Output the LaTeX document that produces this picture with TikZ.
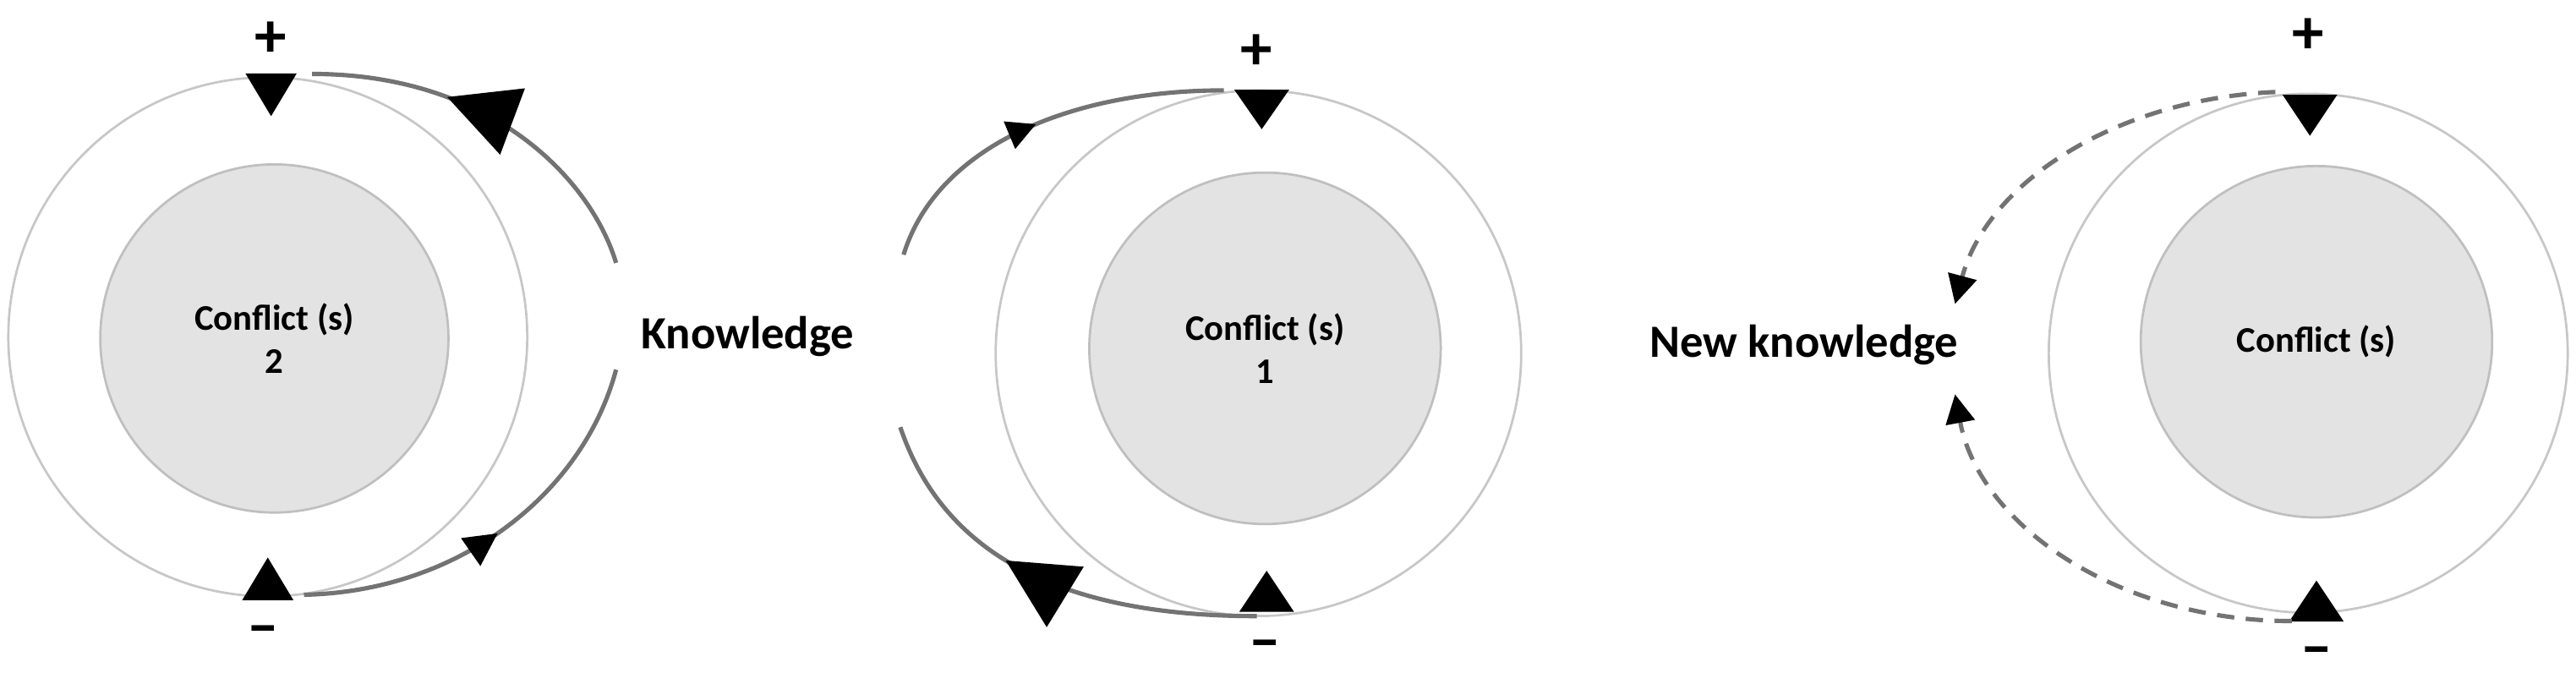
\documentclass[tikz,border=0pt]{standalone}
\usepackage{fontspec}
\setmainfont{Carlito}
\usetikzlibrary{arrows.meta,decorations.markings}
\begin{document}
\begin{tikzpicture}[x=0.02cm,y=-0.02cm,
 outer/.style={circle,draw=black!22,line width=0.8pt,minimum size=#1*0.04cm,inner sep=0},
 inner/.style={circle,draw=black!25,fill=black!11,line width=0.8pt,minimum size=#1*0.04cm,inner sep=0},
 lbl/.style={font=\bfseries\fontsize{12.5}{15}\selectfont,align=center},
 big/.style={font=\bfseries\fontsize{16}{19}\selectfont},
 sign/.style={font=\bfseries\fontsize{22}{22}\selectfont},
 arc/.style={draw=black!55,line width=1.5pt},
 tri/.style={fill=black},
 mkf/.style 2 args={postaction={decorate},decoration={markings,mark=at position #2 with {\arrow{Triangle[length=#1,width=#1,black]}}}},
 mkr/.style 2 args={postaction={decorate},decoration={markings,mark=at position #2 with {\arrowreversed{Triangle[length=#1,width=#1,black]}}}}]
\useasboundingbox (0,0) rectangle (1568,416);
% left
\node[outer=158] (o2) at (163,205) {};
\node[inner=106,lbl] (i2) at (167,206) {Conflict (s)\\2};
\draw[tri] (150,45)--(180,45)--(165,70)--cycle;
\draw[tri] (148,365)--(178,365)--(163,340)--cycle;
\node[sign] (p2) at (165,24) {+};
\node[sign] (m2) at (160,387) {\textendash};
% middle
\node[outer=160] (o1) at (766,215) {};
\node[inner=107,lbl] (i1) at (770,212) {Conflict (s)\\1};
\draw[tri] (752,55)--(784,55)--(768,78)--cycle;
\draw[tri] (755,372)--(787,372)--(771,348)--cycle;
\node[sign] (p1) at (765,32) {+};
\node[sign] (m1) at (770,396) {\textendash};
% right
\node[outer=158] (o3) at (1405,215) {};
\node[inner=107,lbl] (i3) at (1410,208) {Conflict (s)};
\draw[tri] (1390,58)--(1422,58)--(1406,82)--cycle;
\draw[tri] (1394,378)--(1426,378)--(1410,354)--cycle;
\node[sign] (p3) at (1405,22) {+};
\node[sign] (m3) at (1410,400) {\textendash};
% texts
\node[big] (k) at (455,205) {Knowledge};
\node[big] (nk) at (1098,210) {New knowledge};
\coordinate (a1) at (190,45); \coordinate (a2) at (375,160);
\coordinate (a3) at (375,225); \coordinate (a4) at (185,362);
\draw[arc,mkr={0.85cm}{0.36}] (a1) .. controls (300,45) and (360,110) .. (a2);
\draw[arc,mkr={0.4cm}{0.5}] (a3) .. controls (355,300) and (280,360) .. (a4);
\coordinate (b1) at (550,155); \coordinate (b2) at (745,55);
\coordinate (b3) at (548,260); \coordinate (b4) at (765,375);
\draw[arc,mkf={0.35cm}{0.5}] (b1) .. controls (570,90) and (650,55) .. (b2);
\draw[arc,mkr={0.85cm}{0.4}] (b3) .. controls (575,340) and (650,375) .. (b4);
\coordinate (c1) at (1385,56); \coordinate (c2) at (1190,185);
\coordinate (c3) at (1395,378); \coordinate (c4) at (1190,240);
\draw[arc,dash pattern=on 6pt off 4pt,-{Triangle[length=0.35cm,width=0.35cm,black]}] (c1) .. controls (1290,60) and (1210,110) .. (c2);
\draw[arc,dash pattern=on 6pt off 4pt,-{Triangle[length=0.35cm,width=0.35cm,black]}] (c3) .. controls (1290,378) and (1205,320) .. (c4);
\end{tikzpicture}
\end{document}
